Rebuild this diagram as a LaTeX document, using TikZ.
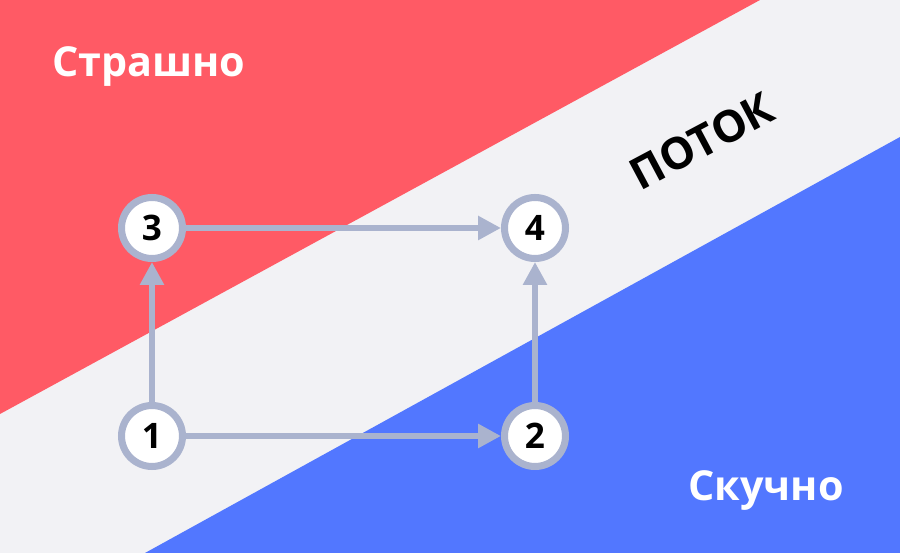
\documentclass[tikz,border=0pt]{standalone}
\usepackage{fontspec}
\setmainfont{Open Sans}
\usetikzlibrary{arrows.meta}
\definecolor{scaryred}{HTML}{FF5A65}
\definecolor{boringblue}{HTML}{5277FF}
\definecolor{flowgray}{HTML}{F2F2F5}
\definecolor{edgegray}{HTML}{AAB3CE}

\begin{document}
\begin{tikzpicture}[x=0.02cm, y=0.02cm,
    state/.style={circle, draw=edgegray, line width=4pt, fill=white,
        minimum size=1.22cm, inner sep=0pt, font=\fontsize{20}{20}\selectfont\bfseries},
    move/.style={draw=edgegray, line width=3.4pt,
        -{Triangle[length=13pt, width=13pt]}},
    zone/.style={font=\fontsize{23.5}{23.5}\selectfont\bfseries, text=white}]
            \useasboundingbox (0,0) rectangle (900,-553);
            % zones
            \fill [flowgray] (0,0) rectangle (900,-553);
            \fill [scaryred] (0,0) -- (760,0) -- (0,-414) -- cycle;
            \fill [boringblue] (900,-137) -- (900,-553) -- (145,-553) -- cycle;
            \node [zone] (scary) at (149,-67) {Страшно};
            \node [zone] (boring) at (766,-491) {Скучно};
            \node [font=\fontsize{25}{25}\selectfont\bfseries, rotate=28] (flow) at (702,-141) {ПОТОК};
            % states
            \node [state] (s1) at (152,-436) {1};
            \node [state] (s2) at (535,-436) {2};
            \node [state] (s3) at (152,-228) {3};
            \node [state] (s4) at (535,-228) {4};
            \draw [move] (s1) -- (s2);
            \draw [move] (s1) -- (s3);
            \draw [move] (s3) -- (s4);
            \draw [move] (s2) -- (s4);
        \end{tikzpicture}
\end{document}
